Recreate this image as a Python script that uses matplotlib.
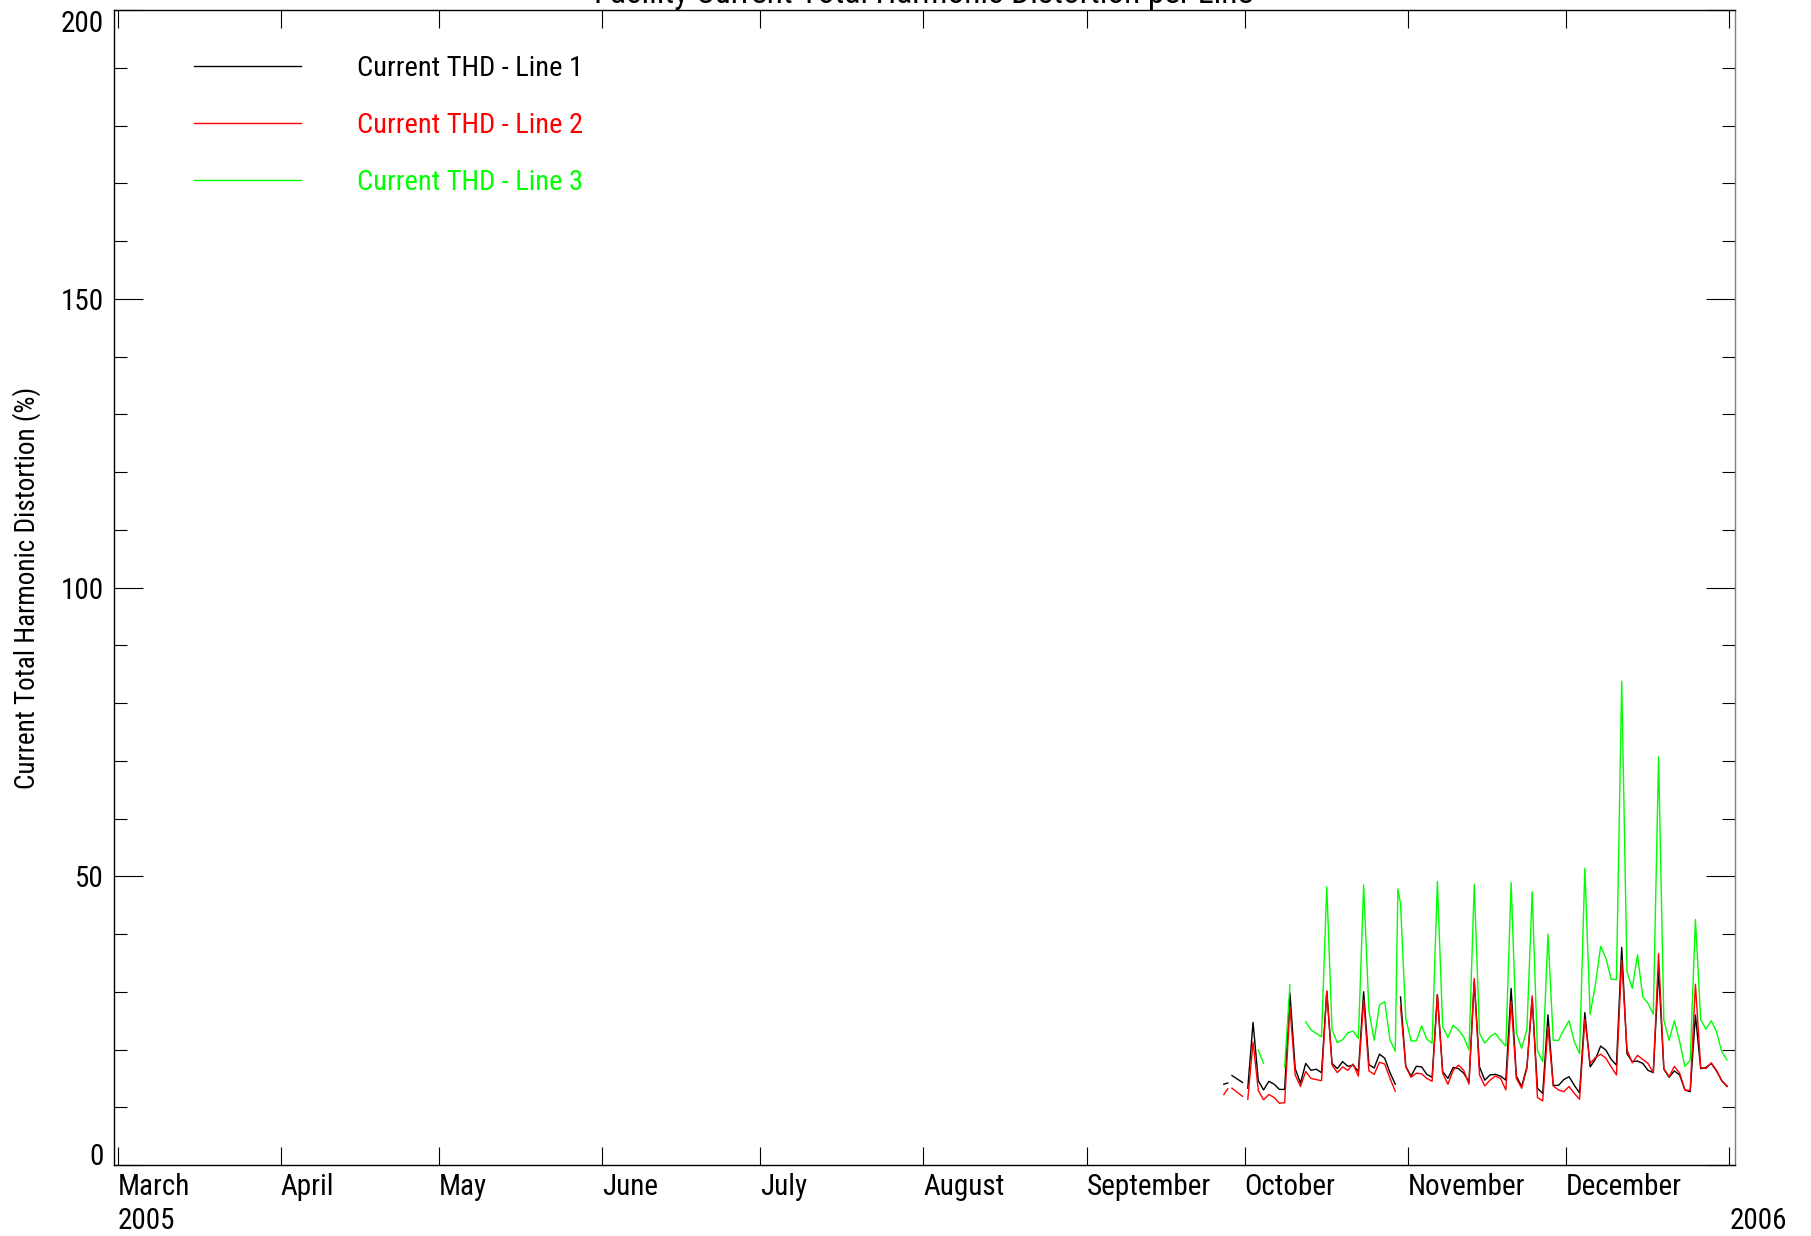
import numpy as np
import matplotlib
matplotlib.use("Agg")
import matplotlib.pyplot as plt
from matplotlib import font_manager as fm
from matplotlib.ticker import MultipleLocator
from datetime import datetime, timedelta

names = {f.name for f in fm.fontManager.ttflist}
FAM = 'DejaVu Sans'
for cand in ['Liberation Sans Narrow', 'Arial Narrow', 'Roboto Condensed', 'Archivo Narrow',
             'PT Sans Narrow', 'IBM Plex Sans Condensed']:
    if cand in names:
        FAM = cand
        break
plt.rcParams['font.family'] = [FAM, 'DejaVu Sans']

nan = np.nan
# sample times: days after 2005-09-26 14:24
t_days = [0.45, 1.2, 1.6, 2, 3, 4, 4.5, 5, 6, 7, 8, 9, 10, 11, 12, 13, 14, 15, 16, 17,
          18, 19, 20, 21, 22, 23, 24, 25, 26, 27, 28, 29, 30, 31, 32, 33, 33.5, 34, 35, 36,
          37, 38, 39, 40, 41, 42, 43, 44, 45, 46, 47, 48, 49, 50, 51, 52, 53, 54, 55, 56,
          57, 58, 59, 60, 61, 62, 63, 64, 65, 66, 67, 68, 69, 70, 71, 72, 73, 74, 75, 76,
          77, 78, 79, 80, 81, 82, 83, 84, 85, 86, 87, 88, 89, 90, 91, 92, 93, 94, 95, 96]

line1 = [14.0, 14.2, nan, 15.5, 14.9, 14.3, nan, 13.3, 24.7, 14.6, 13.0, 14.5, 14.0, 13.1, 13.1, 29.8, 16.7, 14.2, 17.6, 16.4,
         16.6, 16.0, 30.1, 17.6, 16.7, 17.9, 17.1, 17.3, 16.2, 30.0, 17.4, 16.8, 19.2, 18.5, 16.0, 14.0, nan, 29.1, 17.1, 15.4,
         17.1, 17.0, 15.7, 15.2, 29.5, 16.2, 15.0, 16.9, 16.7, 15.9, 14.4, 31.8, 17.0, 14.7, 15.6, 15.7, 15.4, 14.7, 30.6, 15.4,
         13.6, 17.0, 28.8, 13.3, 12.4, 26.0, 13.8, 13.8, 14.8, 15.3, 13.8, 12.5, 26.4, 17.0, 18.3, 20.6, 19.9, 18.3, 17.3, 37.7,
         19.3, 17.9, 18.0, 17.6, 16.4, 16.0, 33.8, 16.6, 15.2, 16.3, 15.6, 13.0, 12.7, 26.0, 16.7, 16.9, 17.6, 16.3, 14.6, 13.6]

line2 = [12.2, 13.2, nan, 13.3, 12.6, 11.9, nan, 11.4, 21.3, 12.9, 11.3, 12.2, 11.7, 10.7, 10.8, 27.4, 15.6, 13.6, 16.2, 15.0,
         14.8, 14.6, 30.1, 17.3, 16.0, 17.0, 16.4, 17.5, 15.4, 28.6, 16.3, 15.7, 17.8, 17.5, 15.0, 12.8, nan, 27.4, 17.0, 15.2,
         15.9, 15.8, 15.0, 14.5, 29.5, 15.9, 14.0, 16.4, 17.3, 16.4, 14.0, 32.3, 15.6, 13.7, 14.7, 15.4, 15.0, 13.0, 28.3, 15.0,
         13.3, 16.7, 29.3, 11.7, 11.1, 23.9, 13.7, 13.0, 12.7, 13.6, 12.4, 11.4, 25.2, 17.6, 18.6, 19.2, 18.5, 17.0, 15.6, 35.5,
         20.0, 17.7, 19.0, 18.3, 17.6, 16.0, 36.6, 16.7, 15.3, 17.1, 15.9, 13.0, 12.9, 31.3, 16.9, 16.7, 17.7, 16.4, 14.6, 13.7]

line3 = [nan, nan, nan, nan, nan, nan, nan, nan, nan, 19.9, 17.6, nan, nan, nan, 17.0, 31.2, nan, nan, 24.8, 23.4,
         22.8, 22.2, 48.2, 23.4, 21.2, 21.7, 22.9, 23.2, 21.9, 48.5, 26.7, 21.6, 27.7, 28.3, 21.7, 19.7, 47.8, 45.3, 25.4, 21.5,
         21.5, 24.1, 21.8, 21.1, 49.1, 24.0, 22.1, 24.2, 23.4, 22.2, 19.9, 48.6, 22.8, 21.1, 22.2, 22.8, 21.6, 20.6, 48.9, 22.8,
         20.2, 23.5, 47.3, 19.8, 17.9, 40.0, 21.6, 21.6, 23.4, 25.0, 21.4, 19.3, 51.4, 26.1, 31.2, 37.9, 35.8, 32.2, 32.1, 83.8,
         33.5, 30.6, 36.4, 29.1, 28.0, 26.1, 70.7, 25.1, 21.6, 25.0, 21.4, 17.1, 18.1, 42.5, 25.2, 23.5, 25.0, 23.1, 19.6, 18.2]

series_labels = ['Current THD - Line 1', 'Current THD - Line 2', 'Current THD - Line 3']
series_colors = ['#000000', '#ff0000', '#00ff00']

month_ticks = ['2005-03-01', '2005-04-01', '2005-05-01', '2005-06-01', '2005-07-01', '2005-08-01',
               '2005-09-01', '2005-10-01', '2005-11-01', '2005-12-01', '2006-01-01']
month_labels = ['March\n2005', 'April', 'May', 'June', 'July', 'August', 'September',
                'October', 'November', 'December', '\n2006']
y_ticks = [0, 50, 100, 150, 200]

base = datetime(2005, 9, 26, 14, 24)
times = [base + timedelta(days=d) for d in t_days]

fig = plt.figure(figsize=(18.11, 12.36), dpi=100)
ax = fig.add_axes([0.0629, 0.0574, 0.8951, 0.9345])

for vals, lab, col in zip([line1, line2, line3], series_labels, series_colors):
    ax.plot(times, vals, color=col, lw=1.0, label=lab)

x0 = datetime(2005, 3, 1) - timedelta(days=0.7)
x1 = datetime(2005, 3, 1) + timedelta(days=307.1)
ax.set_xlim(x0, x1)
ax.set_ylim(0, 200)

tick_dates = [datetime.strptime(s, '%Y-%m-%d') for s in month_ticks]
ax.set_xticks(tick_dates)
ax.set_xticklabels(month_labels, ha='left', fontsize=21, linespacing=1.25)
ax.set_yticks(y_ticks)
ax.set_yticklabels([str(v) for v in y_ticks], fontsize=21)
ax.yaxis.set_minor_locator(MultipleLocator(10))

ax.tick_params(axis='x', which='major', direction='in', length=13, width=0.8,
               top=True, bottom=True, pad=6)
ax.tick_params(axis='y', which='major', direction='in', length=21, width=0.8,
               left=True, right=True, pad=7)
ax.tick_params(axis='y', which='minor', direction='in', length=9.5, width=0.8,
               left=True, right=True)

ylabs = ax.get_yticklabels()
ylabs[0].set_va('baseline')
ylabs[-1].set_va('top')

for s in ax.spines.values():
    s.set_linewidth(1.0)
ax.spines['right'].set_color('#7f7f7f')

leg = ax.legend(loc='upper left', bbox_to_anchor=(0.0494, 0.961), frameon=False,
                fontsize=20.5, labelcolor='linecolor', handlelength=3.75, handletextpad=1.97,
                labelspacing=1.05, borderpad=0, borderaxespad=0)

fig.text(27 / 1811, 1 - 588 / 1236, 'Current Total Harmonic Distortion (%)', rotation=90,
         ha='center', va='center', fontsize=19.5)
fig.text(0.5102, 0.9975, 'Facility Current Total Harmonic Distortion per Line',
         ha='center', va='baseline', fontsize=24)

fig.savefig('out.png', dpi=100)
